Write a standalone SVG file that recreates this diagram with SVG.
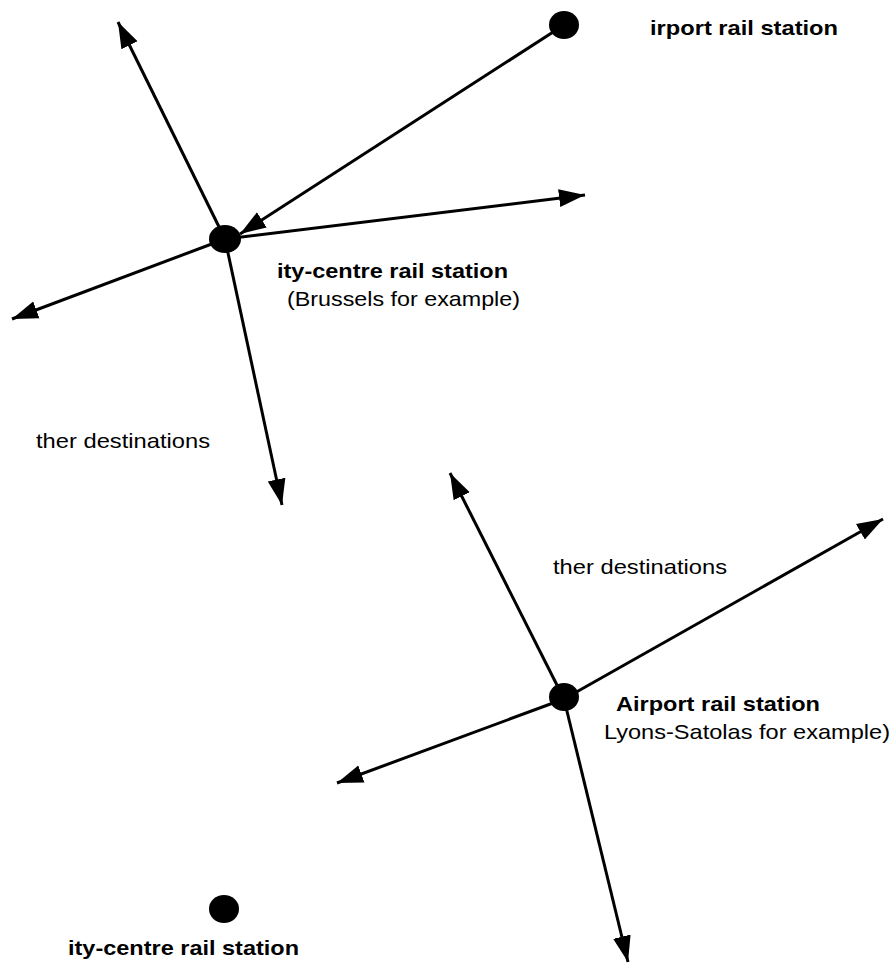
<svg xmlns="http://www.w3.org/2000/svg" width="893" height="963" viewBox="0 0 893 963">
<style>
.c{stroke:#000;stroke-width:3;fill:none;marker-end:url(#ah)}
.n{fill:#000}
text{font-family:"Liberation Sans",Arial,sans-serif;font-size:21px;fill:#000}
.b{font-weight:bold}
</style>
<defs>
<marker id="ah" markerUnits="userSpaceOnUse" markerWidth="28" markerHeight="20" refX="26" refY="10" orient="auto">
<path d="M0,1 L26,10 L0,19 z" fill="#000"/>
</marker>
</defs>
<rect width="893" height="963" fill="#fff"/>
<g id="connectors">
<line class="c" x1="225" y1="239" x2="118" y2="22"/>
<line class="c" x1="225" y1="239" x2="585" y2="195"/>
<line class="c" x1="225" y1="239" x2="12" y2="319"/>
<line class="c" x1="225" y1="239" x2="282" y2="505"/>
<line class="c" x1="564" y1="25" x2="240" y2="234"/>
<line class="c" x1="564" y1="699" x2="450" y2="473"/>
<line class="c" x1="564" y1="699" x2="883" y2="519"/>
<line class="c" x1="564" y1="699" x2="337" y2="783"/>
<line class="c" x1="564" y1="699" x2="628" y2="962"/>
</g>
<g id="airport-top">
<ellipse class="n" cx="564" cy="25" rx="15" ry="14"/>
<text class="b" x="650" y="35" textLength="188" lengthAdjust="spacingAndGlyphs">irport rail station</text>
</g>
<g id="city-centre-brussels">
<ellipse class="n" cx="225" cy="239" rx="16" ry="14"/>
<text class="b" x="277" y="278" textLength="231" lengthAdjust="spacingAndGlyphs">ity-centre rail station</text>
<text x="287" y="306" textLength="233" lengthAdjust="spacingAndGlyphs">(Brussels for example)</text>
</g>
<g id="other-dest-1">
<text x="36" y="448" textLength="174" lengthAdjust="spacingAndGlyphs">ther destinations</text>
</g>
<g id="other-dest-2">
<text x="553" y="574" textLength="174" lengthAdjust="spacingAndGlyphs">ther destinations</text>
</g>
<g id="airport-lyons">
<ellipse class="n" cx="564" cy="697" rx="15" ry="14"/>
<text class="b" x="616" y="711" textLength="204" lengthAdjust="spacingAndGlyphs">Airport rail station</text>
<text x="604" y="739" textLength="286" lengthAdjust="spacingAndGlyphs">Lyons-Satolas for example)</text>
</g>
<g id="city-centre-bottom">
<ellipse class="n" cx="224" cy="909" rx="15" ry="14"/>
<text class="b" x="68" y="955" textLength="231" lengthAdjust="spacingAndGlyphs">ity-centre rail station</text>
</g>
</svg>
